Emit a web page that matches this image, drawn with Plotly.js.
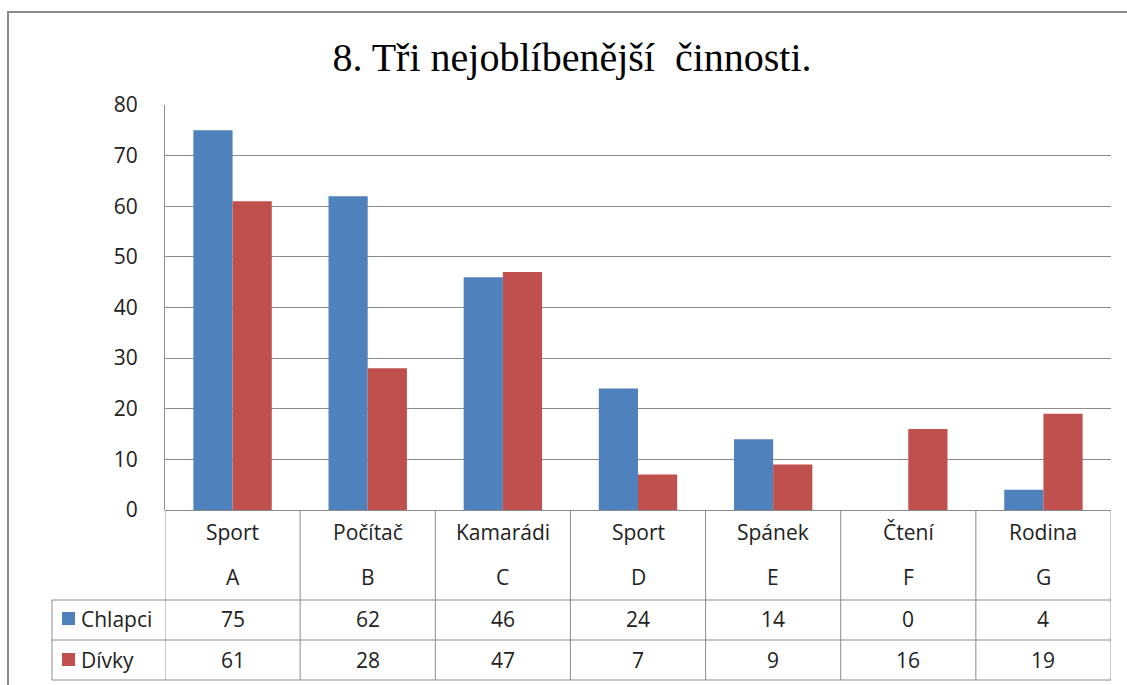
<!DOCTYPE html>
<html>
<head>
<meta charset="utf-8">
<script src="https://cdn.plot.ly/plotly-3.0.1.min.js"></script>
<style>html,body{margin:0;padding:0;background:#fff;}#chart{width:1127px;height:685px;}</style>
</head>
<body>
<div id="chart"></div>
<script>
const titleText = "8. Tři nejoblíbenější\u00a0 činnosti.";
const names = ["Sport", "Počítač", "Kamarádi", "Sport", "Spánek", "Čtení", "Rodina"];
const letters = ["A", "B", "C", "D", "E", "F", "G"];
const seriesNames = ["Chlapci", "Dívky"];
const chlapci = [75, 62, 46, 24, 14, 0, 4];
const divky = [61, 28, 47, 7, 9, 16, 19];
const colors = ["#4F81BD", "#C0504D"];

const W = 1127, H = 685;
const L = 165, R = 1111, T = 105, B = 510;
const pw = R - L, ph = B - T;
const px = x => (x - L) / pw;
const py = y => (B - y) / ph;
const gridCol = "#8c8c8c";
const font = "Open Sans, Noto Sans, sans-serif";
const fs = 21;

const traces = [
  {type: "bar", x: letters, y: chlapci, name: seriesNames[0], marker: {color: colors[0]}},
  {type: "bar", x: letters, y: divky, name: seriesNames[1], marker: {color: colors[1]}}
];

const shapes = [];
const annotations = [];
const line = (x0, y0, x1, y1, xref, c, w) => shapes.push({type: "line", xref: xref || "paper", yref: "paper", x0, y0, x1, y1, line: {color: c || gridCol, width: w || 1}});

// outer border (top and left edges visible)
line(px(7), py(12), px(W), py(12), "paper", "#8a8a8a", 2);
line(px(8), py(11), px(8), py(H), "paper", "#8a8a8a", 2);

// table vertical lines at category boundaries
for (let i = 0; i <= letters.length; i++) {
  line(i - 0.5, py(B), i - 0.5, py(680), "x");
}
// horizontal lines
line(px(52), py(600), 1, py(600));
line(px(52), py(640), 1, py(640));
line(px(52), py(680), 1, py(680));
line(px(52), py(600), px(52), py(680));

const txt = (xref, x, yc, text, xanchor) => annotations.push({xref, yref: "paper", x, y: py(yc), xanchor: xanchor || "center", yanchor: "middle", text, showarrow: false, font: {family: font, size: fs, color: "#222"}});

// category labels and values
letters.forEach((c, i) => {
  txt("x", c, 532, names[i]);
  txt("x", c, 577, letters[i]);
  txt("x", c, 619, String(chlapci[i]));
  txt("x", c, 660, String(divky[i]));
});

// legend keys and names in table
[[619, 0], [660, 1]].forEach(([yc, k]) => {
  shapes.push({type: "rect", xref: "paper", yref: "paper", x0: px(62), x1: px(75), y0: py(yc - 7), y1: py(yc + 6), fillcolor: colors[k], line: {width: 0}});
  txt("paper", px(79), yc, seriesNames[k], "left");
});

const layout = {
  width: W, height: H,
  margin: {l: L, r: W - R, t: T, b: H - B, pad: 0},
  paper_bgcolor: "#fff", plot_bgcolor: "#fff",
  title: {text: titleText, x: 572 / W, xref: "container", xanchor: "center", y: 1 - 57 / H, yref: "container", yanchor: "middle", font: {family: "Liberation Serif, Times New Roman, serif", size: 40, color: "#000"}},
  showlegend: false,
  barmode: "group",
  bargap: 0.42,
  bargroupgap: 0,
  hovermode: false,
  xaxis: {type: "category", range: [-0.5, 6.5], showticklabels: false, showgrid: false, zeroline: false, showline: false, ticks: ""},
  yaxis: {range: [0, 80], dtick: 10, tick0: 0, showgrid: true, gridcolor: gridCol, gridwidth: 1, zeroline: true, zerolinecolor: gridCol, zerolinewidth: 1, showline: true, linecolor: gridCol, linewidth: 1, ticks: "", ticklabelstandoff: 22, tickfont: {family: font, size: fs, color: "#222"}},
  shapes, annotations
};
Plotly.newPlot("chart", traces, layout, {displayModeBar: false, staticPlot: true});
</script>
</body>
</html>
